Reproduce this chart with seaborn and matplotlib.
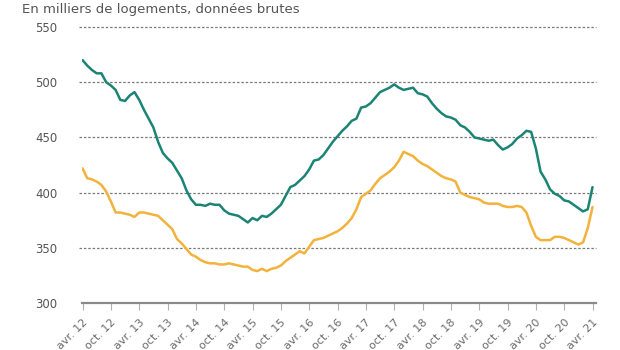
import numpy as np
import pandas as pd
import matplotlib
matplotlib.use("Agg")
import matplotlib.pyplot as plt
import seaborn as sns

# Monthly data, avr. 2012 -> avr. 2021 (thousands of dwellings, raw data)
months = list(range(109))
serie_verte = [
    520, 515, 511, 508, 508, 500, 497, 493, 484, 483,
    488, 491, 484, 475, 467, 459, 446, 436, 431, 427,
    420, 413, 402, 394, 389, 389, 388, 390, 389, 389,
    384, 381, 380, 379, 376, 373, 377, 375, 379, 378,
    381, 385, 389, 397, 405, 407, 411, 415, 421, 429,
    430, 434, 440, 446, 451, 456, 460, 465, 467, 477,
    478, 481, 486, 491, 493, 495, 498, 495, 493, 494,
    495, 490, 489, 487, 481, 476, 472, 469, 468, 466,
    461, 459, 455, 450, 449, 448, 447, 448, 443, 439,
    441, 444, 449, 452, 456, 455, 440, 419, 412, 403,
    399, 397, 393, 392, 389, 386, 383, 385, 405,
]
serie_orange = [
    422, 413, 412, 410, 407, 401, 392, 382, 382, 381,
    380, 378, 382, 382, 381, 380, 379, 375, 371, 367,
    358, 354, 349, 344, 342, 339, 337, 336, 336, 335,
    335, 336, 335, 334, 333, 333, 330, 329, 331, 329,
    331, 332, 334, 338, 341, 344, 347, 345, 351, 357,
    358, 359, 361, 363, 365, 368, 372, 377, 385, 396,
    399, 402, 408, 413, 416, 419, 423, 429, 437, 435,
    433, 429, 426, 424, 421, 418, 415, 413, 412, 410,
    400, 398, 396, 395, 394, 391, 390, 390, 390, 388,
    387, 387, 388, 387, 382, 370, 360, 357, 357, 357,
    360, 360, 359, 357, 355, 353, 355, 368, 387,
]
tick_labels = [
    "avr. 12", "oct. 12", "avr. 13", "oct. 13", "avr. 14", "oct. 14",
    "avr. 15", "oct. 15", "avr. 16", "oct. 16", "avr. 17", "oct. 17",
    "avr. 18", "oct. 18", "avr. 19", "oct. 19", "avr. 20", "oct. 20",
    "avr. 21",
]
y_ticks = [300, 350, 400, 450, 500, 550]

df = pd.DataFrame({
    "mois": months * 2,
    "valeur": serie_verte + serie_orange,
    "serie": ["A"] * len(months) + ["B"] * len(months),
})

sns.set_style("white")
plt.rcParams["font.family"] = ["DejaVu Sans"]

fig = plt.figure(figsize=(6.2, 3.5), dpi=100)
ax = fig.add_axes([0.132, 0.134, 0.829, 0.789])

sns.lineplot(data=df, x="mois", y="valeur", hue="serie",
             palette={"A": "#1b8475", "B": "#f2b23c"},
             linewidth=1.8, legend=False, ax=ax)

ax.set_xlim(-0.15, 108.7)
ax.set_ylim(300, 550)
ax.set_yticks(y_ticks)
ax.set_yticklabels([str(v) for v in y_ticks])
ax.set_xticks(list(range(0, 109, 6)))
ax.set_xticklabels(tick_labels, rotation=45, ha="right",
                   rotation_mode="anchor")
ax.set_xlabel("")
ax.set_ylabel("")

for v in y_ticks[1:]:
    ax.axhline(v, color="#7a7a7a", lw=0.9, ls=(0, (2.0, 1.5)), zorder=0,
               xmin=-0.005, xmax=1.0, clip_on=False)

for s in ["top", "right", "left"]:
    ax.spines[s].set_visible(False)
ax.spines["bottom"].set_color("#8a8a8a")
ax.spines["bottom"].set_linewidth(1.6)

ax.tick_params(axis="x", which="both", bottom=True, length=5, width=0.8,
               color="#b0b0b0", labelsize=8, labelcolor="#6a6a6a", pad=5)
ax.tick_params(axis="y", left=False, labelsize=8.5, labelcolor="#555555",
               pad=14)

fig.text(0.035, 0.99, "En milliers de logements, données brutes",
         ha="left", va="top", fontsize=9.5, color="#555555")

fig.savefig("out.png", dpi=100, facecolor="white")
